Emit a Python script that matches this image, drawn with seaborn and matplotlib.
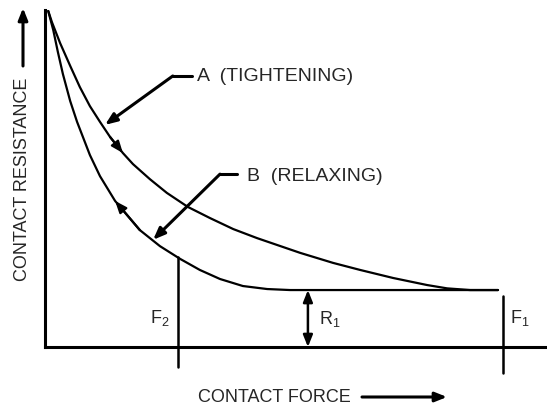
import numpy as np
import pandas as pd
import seaborn as sns
import matplotlib.pyplot as plt

# curve A (tightening) and curve B (relaxing)
force_a = [0.7, 1.5, 3.3, 5.5, 7.6, 9.8, 12.0, 14.2, 17.0, 19.2, 22.9, 26.6, 31.2, 36.0,
           41.1, 46.3, 55.7, 62.9, 68.8, 76.0, 83.4, 87.8, 92.8, 98.9]
resist_a = [100.3, 97.0, 90.7, 83.9, 77.6, 71.9, 67.2, 62.7, 57.9, 54.6, 50.1, 46.0, 41.8, 38.5,
            35.2, 32.5, 28.1, 25.1, 23.0, 20.6, 18.5, 17.5, 17.0, 17.0]
force_b = [0.7, 1.8, 2.8, 3.9, 5.5, 7.0, 9.8, 12.0, 15.3, 20.7, 25.1, 29.5, 33.8, 38.2,
           43.2, 48.5, 53.5, 98.9]
resist_b = [100.3, 94.6, 88.1, 81.5, 73.4, 67.2, 57.3, 51.0, 43.6, 34.9, 30.1, 26.3, 23.0, 20.3,
            18.2, 17.3, 17.0, 17.0]

f2 = 29.0
f1 = 100.0
r1 = 17.0
r1_force = 57.4
labels = ['A  (TIGHTENING)', 'B  (RELAXING)']
x_label = 'CONTACT FORCE'
y_label = 'CONTACT RESISTANCE'

sns.set_style('white')
plt.rcParams['font.family'] = ['Liberation Sans', 'DejaVu Sans']
fs = 13

fig = plt.figure(figsize=(5.47, 4.04), dpi=100)
ax = fig.add_axes([0.0823, 0.1411, 0.9177, 0.8342])

curve_a = pd.DataFrame({'force': force_a, 'resistance': resist_a})
curve_b = pd.DataFrame({'force': force_b, 'resistance': resist_b})
sns.lineplot(data=curve_a, x='force', y='resistance', color='black', lw=1.6, ax=ax)
sns.lineplot(data=curve_b, x='force', y='resistance', color='black', lw=1.6, ax=ax)

ax.set_xlim(0, 109.6)
ax.set_ylim(0, 100.6)
ax.set_xticks([])
ax.set_yticks([])
ax.set_xlabel('')
ax.set_ylabel('')
for s in ['top', 'right']:
    ax.spines[s].set_visible(False)
for s in ['left', 'bottom']:
    ax.spines[s].set_linewidth(2.2)
    ax.spines[s].set_color('black')

head = '-|>,head_length=0.7,head_width=0.28'

# direction arrows on the curves
ax.annotate('', xy=(force_a[8], resist_a[8]), xytext=(force_a[7], resist_a[7]),
            arrowprops=dict(arrowstyle=head, color='black', lw=1.6, shrinkA=0, shrinkB=0))
ax.annotate('', xy=(force_b[8], resist_b[8]), xytext=(force_b[9], resist_b[9]),
            arrowprops=dict(arrowstyle=head, color='black', lw=1.6, shrinkA=0, shrinkB=0))

# leaders
ax.plot([27.9, 32.1], [80.9, 80.9], color='black', lw=2.2, clip_on=False)
ax.annotate('', xy=(13.1, 66.3), xytext=(27.9, 80.9),
            arrowprops=dict(arrowstyle=head, color='black', lw=2.2, shrinkA=0, shrinkB=0))
ax.text(33.2, 80.6, labels[0], ha='left', va='center', fontsize=14)

ax.plot([38.2, 41.9], [51.6, 51.6], color='black', lw=2.2, clip_on=False)
ax.annotate('', xy=(23.6, 32.0), xytext=(38.2, 51.6),
            arrowprops=dict(arrowstyle=head, color='black', lw=2.2, shrinkA=0, shrinkB=0))
ax.text(44.1, 51.0, labels[1], ha='left', va='center', fontsize=14)

# F2, F1 markers and R1
ax.plot([f2, f2], [-6.0, np.interp(f2, force_b, resist_b)], color='black', lw=1.8, clip_on=False)
ax.plot([f1, f1], [-7.8, r1 - 1.8], color='black', lw=1.8, clip_on=False)
ax.annotate('', xy=(r1_force, r1), xytext=(r1_force, 0),
            arrowprops=dict(arrowstyle='<|-|>,head_length=0.7,head_width=0.28',
                            color='black', lw=1.8, shrinkA=0, shrinkB=0))
ax.text(f2 - 3.9, 8.7, r'F$_\mathregular{2}$', ha='center', va='center', fontsize=fs)
ax.text(r1_force + 4.8, 8.3, r'R$_\mathregular{1}$', ha='center', va='center', fontsize=fs)
ax.text(f1 + 3.7, 8.7, r'F$_\mathregular{1}$', ha='center', va='center', fontsize=fs)

# axis titles with arrows
ax.annotate(x_label, xy=(198, 7), xycoords='figure pixels', ha='left', va='center', fontsize=fs)
ax.annotate('', xy=(447, 7), xytext=(362, 7), xycoords='figure pixels', textcoords='figure pixels',
            arrowprops=dict(arrowstyle=head, color='black', lw=2.2, shrinkA=0, shrinkB=0))
ax.annotate(y_label, xy=(23, 225), xycoords='figure pixels', ha='center', va='center',
            rotation=90, fontsize=fs)
ax.annotate('', xy=(23, 396), xytext=(23, 338), xycoords='figure pixels', textcoords='figure pixels',
            arrowprops=dict(arrowstyle=head, color='black', lw=2.2, shrinkA=0, shrinkB=0))

fig.savefig('out.png', dpi=100)
